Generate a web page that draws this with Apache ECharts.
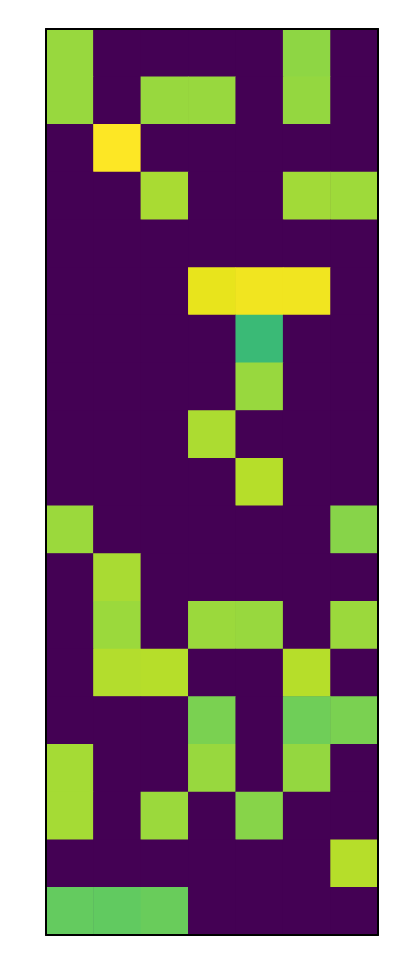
<!DOCTYPE html>
<html>
<head>
<meta charset="utf-8">
<script src="https://cdn.jsdelivr.net/npm/echarts@6/dist/echarts.min.js"></script>
<style>html,body{margin:0;padding:0;background:#fff;}#c{width:408px;height:980px;}</style>
</head>
<body>
<div id="c"></div>
<script>
const cols = ['0','1','2','3','4','5','6'];
const rowNames = ['0','1','2','3','4','5','6','7','8','9','10','11','12','13','14','15','16','17','18'];
const row0  = [0.845, 0, 0, 0, 0, 0.83, 0];
const row1  = [0.845, 0, 0.845, 0.845, 0, 0.84, 0];
const row2  = [0, 1.0, 0, 0, 0, 0, 0];
const row3  = [0, 0, 0.87, 0, 0, 0.86, 0.855];
const row4  = [0, 0, 0, 0, 0, 0, 0];
const row5  = [0, 0, 0, 0.965, 0.98, 0.98, 0];
const row6  = [0, 0, 0, 0, 0.675, 0, 0];
const row7  = [0, 0, 0, 0, 0.845, 0, 0];
const row8  = [0, 0, 0, 0.875, 0, 0, 0];
const row9  = [0, 0, 0, 0, 0.89, 0, 0];
const row10 = [0.85, 0, 0, 0, 0, 0, 0.82];
const row11 = [0, 0.87, 0, 0, 0, 0, 0];
const row12 = [0, 0.85, 0, 0.85, 0.845, 0, 0.85];
const row13 = [0, 0.885, 0.89, 0, 0, 0.89, 0];
const row14 = [0, 0, 0, 0.80, 0, 0.78, 0.80];
const row15 = [0.865, 0, 0, 0.845, 0, 0.84, 0];
const row16 = [0.865, 0, 0.85, 0, 0.82, 0, 0];
const row17 = [0, 0, 0, 0, 0, 0, 0.89];
const row18 = [0.76, 0.755, 0.77, 0, 0, 0, 0];
const rows = [row0,row1,row2,row3,row4,row5,row6,row7,row8,row9,row10,row11,row12,row13,row14,row15,row16,row17,row18];

const viridis = ['#440154','#471365','#482475','#463480','#414487','#3b528b','#355f8d','#2f6c8e','#2a788e','#25848e','#21918c','#1e9c89','#22a884','#2fb47c','#44bf70','#5ec962','#7ad151','#9bd93c','#bddf26','#dfe318','#fde725'];

const data = [];
rows.forEach((r, y) => r.forEach((v, x) => data.push([x, y, v])));

const hiddenAxis = (extra) => Object.assign({
  type: 'category',
  axisLine: {show: true, lineStyle: {color: '#000', width: 2}},
  axisTick: {show: false},
  axisLabel: {show: false},
  splitLine: {show: false}
}, extra);

const chart = echarts.init(document.getElementById('c'), null, {renderer: 'canvas'});
chart.setOption({
  animation: false,
  backgroundColor: '#fff',
  grid: {left: 46, right: 30, top: 29, bottom: 45, show: true, backgroundColor: '#440154', borderWidth: 0},
  xAxis: [
    hiddenAxis({data: cols, position: 'bottom', z: 10}),
    hiddenAxis({data: cols, position: 'top', z: 10})
  ],
  yAxis: [
    hiddenAxis({data: rowNames, inverse: true, position: 'left', z: 10}),
    hiddenAxis({data: rowNames, inverse: true, position: 'right', z: 10})
  ],
  visualMap: {
    show: false, min: 0, max: 1, calculable: false,
    inRange: {color: viridis}
  },
  series: [{
    type: 'heatmap',
    data: data,
    itemStyle: {borderWidth: 0},
    emphasis: {disabled: true},
    progressive: 0
  }]
});
</script>
</body>
</html>
